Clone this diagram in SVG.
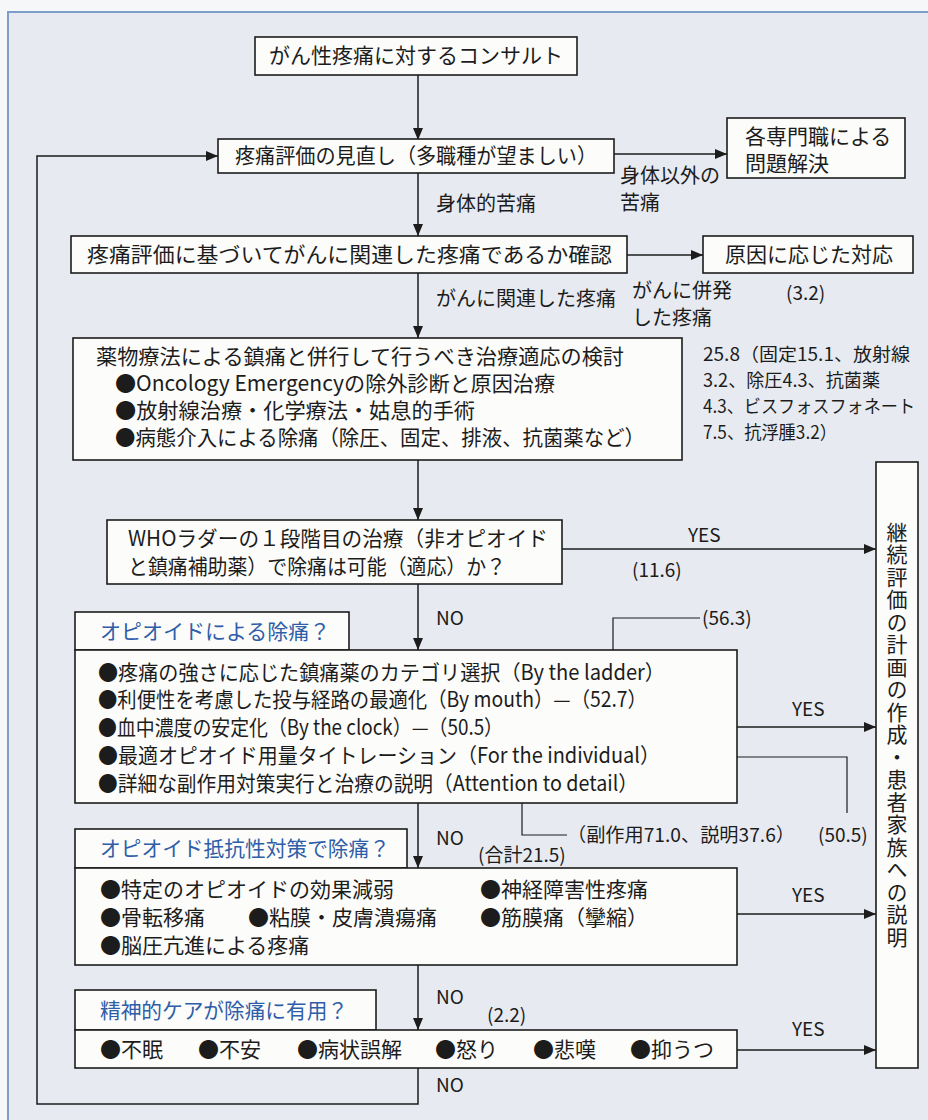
<svg xmlns="http://www.w3.org/2000/svg" width="928" height="1120" viewBox="0 0 928 1120">
<defs>
<marker id="ah" viewBox="0 0 12 10" refX="12" refY="5" markerWidth="12" markerHeight="10" markerUnits="userSpaceOnUse" orient="auto">
<path d="M0,0 L12,5 L0,10 z" fill="#1c1c1c"/>
</marker>
<style>
.bx{fill:#fcfcfb;stroke:#1c1c1c;stroke-width:1.6}
.ln{fill:none;stroke:#1c1c1c;stroke-width:1.5}
.ar{fill:none;stroke:#1c1c1c;stroke-width:1.5;marker-end:url(#ah)}
.lead{fill:none;stroke:#1c1c1c;stroke-width:1.2}
text{font-family:"Noto Sans CJK JP","Noto Sans",sans-serif;font-size:21px;fill:#1c1c1c}
.c{text-anchor:middle}
.bl{fill:#2f5ea8}
.s{font-size:19px}
.m{font-size:20px}
.n{font-size:18px}
</style>
</defs>
<rect x="0" y="0" width="928" height="1120" fill="#f6f7f9"/>
<rect x="8" y="12" width="930" height="1120" fill="#e7ebf1" stroke="#7f9dc9" stroke-width="2"/>

<g id="connectors">
<line class="ar" x1="418" y1="75" x2="418" y2="140"/>
<line class="ar" x1="614" y1="154" x2="727" y2="154"/>
<line class="ar" x1="418" y1="173" x2="418" y2="236"/>
<line class="ar" x1="627" y1="255" x2="703" y2="255"/>
<line class="ar" x1="418" y1="273" x2="418" y2="338"/>
<line class="ar" x1="418" y1="460" x2="418" y2="520"/>
<line class="ar" x1="562" y1="549" x2="876" y2="549"/>
<line class="ar" x1="418" y1="584" x2="418" y2="650"/>
<line class="ar" x1="737" y1="727" x2="876" y2="727"/>
<line class="ar" x1="418" y1="803" x2="418" y2="868"/>
<line class="ar" x1="737" y1="914" x2="876" y2="914"/>
<line class="ar" x1="418" y1="965" x2="418" y2="1030"/>
<line class="ar" x1="737" y1="1050" x2="876" y2="1050"/>
<path class="ar" d="M418,1068 V1104 H37 V156 H218"/>
<path class="lead" d="M613,650 V618 H700"/>
<path class="lead" d="M670,757 H847 V813"/>
<path class="lead" d="M522,796 V835 H567"/>
<text x="620" y="183" class="m">身体以外の</text>
<text x="620" y="210" class="m">苦痛</text>
<text x="436" y="211" class="m">身体的苦痛</text>
<text x="632" y="298" class="m">がんに併発</text>
<text x="632" y="325" class="m">した疼痛</text>
<text x="786" y="300" class="s">(3.2)</text>
<text x="436" y="306" class="m">がんに関連した疼痛</text>
<text x="688" y="542" class="s">YES</text>
<text x="632" y="577" class="s">(11.6)</text>
<text x="436" y="625" class="s">NO</text>
<text x="702" y="625" class="s">(56.3)</text>
<text x="792" y="716" class="s">YES</text>
<text x="567" y="842" class="s" textLength="228" lengthAdjust="spacingAndGlyphs">（副作用71.0、説明37.6）</text>
<text x="818" y="842" class="s">(50.5)</text>
<text x="436" y="845" class="s">NO</text>
<text x="478" y="862" class="s">(合計21.5)</text>
<text x="792" y="902" class="s">YES</text>
<text x="436" y="1004" class="s">NO</text>
<text x="487" y="1022" class="s">(2.2)</text>
<text x="792" y="1036" class="s">YES</text>
<text x="436" y="1092" class="s">NO</text>
</g>

<g id="n1">
<rect class="bx" x="255" y="37" width="322" height="38"/>
<text x="416" y="63" class="c">がん性疼痛に対するコンサルト</text>
</g>
<g id="n2">
<rect class="bx" x="218" y="139" width="396" height="34"/>
<text x="235" y="163" textLength="362" lengthAdjust="spacingAndGlyphs">疼痛評価の見直し（多職種が望ましい）</text>
</g>
<g id="n3">
<rect class="bx" x="727" y="118" width="178" height="60"/>
<text x="745" y="144">各専門職による</text>
<text x="745" y="171">問題解決</text>
</g>
<g id="n4">
<rect class="bx" x="71" y="236" width="556" height="37"/>
<text x="87" y="262" textLength="525" lengthAdjust="spacingAndGlyphs">疼痛評価に基づいてがんに関連した疼痛であるか確認</text>
</g>
<g id="n5">
<rect class="bx" x="703" y="236" width="210" height="37"/>
<text x="809" y="262" class="c">原因に応じた対応</text>
</g>
<g id="n6">
<rect class="bx" x="73" y="338" width="609" height="122"/>
<text x="96" y="364" textLength="528" lengthAdjust="spacingAndGlyphs">薬物療法による鎮痛と併行して行うべき治療適応の検討</text>
<text x="115" y="391" textLength="440" lengthAdjust="spacingAndGlyphs">●Oncology Emergencyの除外診断と原因治療</text>
<text x="115" y="418" textLength="360" lengthAdjust="spacingAndGlyphs">●放射線治療・化学療法・姑息的手術</text>
<text x="115" y="445" textLength="530" lengthAdjust="spacingAndGlyphs">●病態介入による除痛（除圧、固定、排液、抗菌薬など）</text>
</g>
<g id="n6note">
<text x="703" y="361" class="n" textLength="207" lengthAdjust="spacingAndGlyphs">25.8（固定15.1、放射線</text>
<text x="703" y="387" class="n" textLength="177" lengthAdjust="spacingAndGlyphs">3.2、除圧4.3、抗菌薬</text>
<text x="703" y="413" class="n" textLength="212" lengthAdjust="spacingAndGlyphs">4.3、ビスフォスフォネート</text>
<text x="703" y="439" class="n" textLength="134" lengthAdjust="spacingAndGlyphs">7.5、抗浮腫3.2）</text>
</g>
<g id="n7">
<rect class="bx" x="107" y="520" width="455" height="64"/>
<text x="128" y="546" textLength="420" lengthAdjust="spacingAndGlyphs">WHOラダーの１段階目の治療（非オピオイド</text>
<text x="128" y="574" textLength="378" lengthAdjust="spacingAndGlyphs">と鎮痛補助薬）で除痛は可能（適応）か？</text>
</g>
<g id="n8">
<rect class="bx" x="75" y="612" width="274" height="38"/>
<text x="100" y="639" class="bl">オピオイドによる除痛？</text>
<rect class="bx" x="75" y="650" width="662" height="153"/>
<text x="98" y="680" textLength="567" lengthAdjust="spacingAndGlyphs">●疼痛の強さに応じた鎮痛薬のカテゴリ選択（By the ladder）</text>
<text x="98" y="707" textLength="549" lengthAdjust="spacingAndGlyphs">●利便性を考慮した投与経路の最適化（By mouth）—（52.7）</text>
<text x="98" y="735" textLength="405" lengthAdjust="spacingAndGlyphs">●血中濃度の安定化（By the clock）—（50.5）</text>
<text x="98" y="763" textLength="562" lengthAdjust="spacingAndGlyphs">●最適オピオイド用量タイトレーション（For the individual）</text>
<text x="98" y="791" textLength="540" lengthAdjust="spacingAndGlyphs">●詳細な副作用対策実行と治療の説明（Attention to detail）</text>
</g>
<g id="n9">
<rect class="bx" x="75" y="829" width="332" height="39"/>
<text x="100" y="856" class="bl" textLength="290" lengthAdjust="spacingAndGlyphs">オピオイド抵抗性対策で除痛？</text>
<rect class="bx" x="75" y="868" width="662" height="97"/>
<text x="100" y="897">●特定のオピオイドの効果減弱</text>
<text x="480" y="897">●神経障害性疼痛</text>
<text x="100" y="925">●骨転移痛</text>
<text x="248" y="925">●粘膜・皮膚潰瘍痛</text>
<text x="480" y="925">●筋膜痛（攣縮）</text>
<text x="100" y="953">●脳圧亢進による疼痛</text>
</g>
<g id="n10">
<rect class="bx" x="75" y="990" width="301" height="40"/>
<text x="100" y="1018" class="bl" textLength="248" lengthAdjust="spacingAndGlyphs">精神的ケアが除痛に有用？</text>
<rect class="bx" x="75" y="1030" width="662" height="38"/>
<text x="100" y="1057">●不眠</text>
<text x="198" y="1057">●不安</text>
<text x="297" y="1057">●病状誤解</text>
<text x="435" y="1057">●怒り</text>
<text x="533" y="1057">●悲嘆</text>
<text x="630" y="1057">●抑うつ</text>
</g>
<g id="n11">
<rect class="bx" x="876" y="462" width="42" height="606"/>
<text x="897" y="735" style="writing-mode:vertical-rl;text-anchor:middle;letter-spacing:1.5px">継続評価の計画の作成・患者家族への説明</text>
</g>
</svg>
